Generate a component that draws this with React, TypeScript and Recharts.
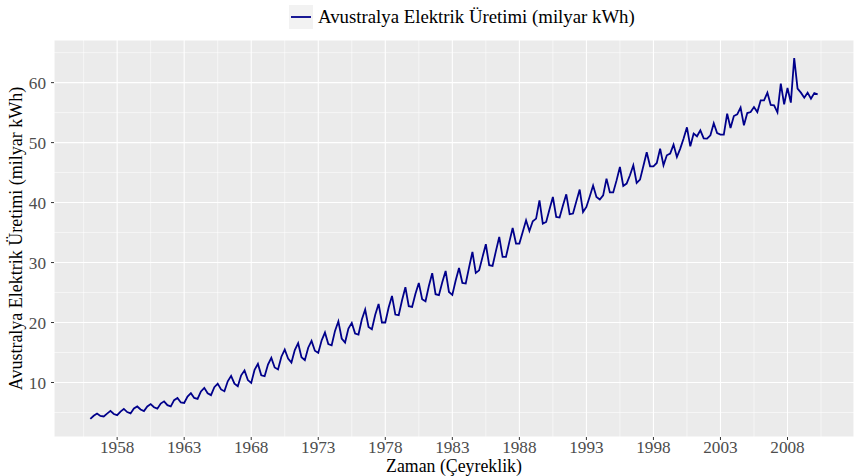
import React from "react";
import {
  LineChart,
  Line,
  XAxis,
  YAxis,
  CartesianGrid,
  ReferenceLine,
  Label,
} from "recharts";

// Quarterly electricity production, 1956 Q1 .. 2010 Q2 (billion kWh)
const startYear = 1956;
const elecProduction: number[] = [
  3.92, 4.44, 4.81, 4.42, 4.34, 4.81, 5.26, 4.74, 4.56, 5.14, 5.6, 5.07,
  4.84, 5.66, 6.0, 5.5, 5.24, 6.0, 6.4, 5.87, 5.64, 6.48, 6.86, 6.22,
  6.02, 7.05, 7.43, 6.67, 6.59, 7.65, 8.22, 7.42, 7.26, 8.51, 9.1, 8.21,
  7.89, 9.22, 9.81, 8.84, 8.55, 10.2, 11.1, 9.8, 9.38, 11.2, 12.0, 10.4,
  9.93, 12.1, 13.1, 11.2, 11.05, 13.0, 14.1, 12.5, 12.17, 14.3, 15.5, 14.0,
  13.33, 15.4, 16.55, 14.2, 13.72, 15.8, 16.93, 15.3, 14.93, 17.0, 18.33, 16.4,
  16.2, 18.6, 20.2, 17.33, 16.67, 19.0, 19.94, 18.17, 18.0, 20.5, 22.17, 19.27,
  18.88, 21.3, 23.1, 20.0, 20.0, 22.5, 24.43, 21.33, 21.22, 23.7, 25.88, 22.72,
  22.6, 24.8, 26.6, 23.88, 23.55, 26.1, 28.22, 24.72, 24.55, 26.7, 28.6, 25.1,
  24.6, 27.0, 29.1, 26.6, 26.5, 29.2, 31.77, 28.27, 28.7, 30.9, 33.05, 29.55,
  29.43, 31.9, 34.27, 30.93, 30.93, 33.4, 35.77, 33.17, 33.17, 35.1, 37.05, 35.27,
  36.88, 37.33, 40.38, 36.5, 36.77, 38.9, 40.93, 37.6, 37.5, 39.5, 41.38, 38.05,
  38.17, 40.2, 42.17, 38.43, 39.27, 41.0, 42.83, 40.93, 40.5, 41.2, 44.0, 41.7,
  41.7, 43.7, 45.93, 42.77, 43.17, 44.55, 46.22, 43.27, 43.83, 46.1, 48.38, 46.05,
  46.05, 46.6, 49.0, 46.22, 47.88, 48.17, 49.67, 47.6, 49.0, 50.67, 52.55, 49.38,
  51.5, 51.05, 52.05, 50.72, 50.67, 51.22, 53.22, 51.6, 51.33, 51.33, 54.83, 52.43,
  54.43, 54.72, 55.83, 52.88, 54.93, 55.1, 55.93, 55.1, 57.05, 57.05, 58.33, 56.27,
  56.22, 55.05, 59.83, 56.38, 59.1, 56.67, 64.1, 59.0, 58.33, 57.5, 58.33, 57.33,
  58.27, 58.05,
];

const xTicks = [1958, 1963, 1968, 1973, 1978, 1983, 1988, 1993, 1998, 2003, 2008];
const xMinor = [1955.5, 1960.5, 1965.5, 1970.5, 1975.5, 1980.5, 1985.5, 1990.5, 1995.5, 2000.5, 2005.5, 2010.5];
const yTicks = [10, 20, 30, 40, 50, 60];
const yMinor = [5, 15, 25, 35, 45, 55, 65];

const seriesName = "Avustralya Elektrik Üretimi (milyar kWh)";
const xTitle = "Zaman (Çeyreklik)";
const yTitle = "Avustralya Elektrik Üretimi (milyar kWh)";

const FONT = '"Liberation Serif", "Times New Roman", serif';
const LINE_COLOR = "#00008B";

const data = elecProduction.map((v, i) => ({ t: startYear + i / 4, v }));

function LegendOverlay() {
  return (
    <div
      style={{
        position: "absolute",
        left: 289,
        top: 5,
        display: "flex",
        alignItems: "center",
        fontFamily: FONT,
        fontSize: 18.8,
        color: "#000",
        whiteSpace: "nowrap",
      }}
    >
      <svg width={24} height={24} style={{ display: "block" }}>
        <rect x={0} y={0} width={24} height={24} fill="#F2F2F2" />
        <line x1={2} y1={12} x2={22} y2={12} stroke={LINE_COLOR} strokeWidth={1.8} />
      </svg>
      <span style={{ marginLeft: 5, lineHeight: "24px" }}>{seriesName}</span>
    </div>
  );
}

export default function App() {
  return (
    <div
      style={{
        position: "absolute",
        left: 0,
        top: 0,
        width: 854,
        height: 476,
        background: "#fff",
      }}
    >
      <LineChart
        width={854}
        height={476}
        data={data}
        margin={{ top: 40, right: 0, bottom: 0, left: 0 }}
      >
        <CartesianGrid fill="#EBEBEB" stroke="#FFFFFF" strokeWidth={1.07} />
        {xMinor.map((x) => (
          <ReferenceLine key={`vx${x}`} x={x} stroke="#FFFFFF" strokeWidth={0.55} />
        ))}
        {yMinor.map((y) => (
          <ReferenceLine key={`hy${y}`} y={y} stroke="#FFFFFF" strokeWidth={0.55} />
        ))}
        <XAxis
          dataKey="t"
          type="number"
          domain={[1953.29, 2012.96]}
          ticks={xTicks}
          allowDataOverflow
          height={39}
          axisLine={false}
          tickSize={3}
          tickMargin={1}
          tickLine={{ stroke: "#333333", strokeWidth: 1 }}
          tick={{ fill: "#4D4D4D", fontSize: 17.2, fontFamily: FONT }}
        >
          <Label
            content={() => (
              <text
                x={454}
                y={472}
                textAnchor="middle"
                fontFamily={FONT}
                fontSize={17.8}
                fill="#000"
              >
                {xTitle}
              </text>
            )}
          />
        </XAxis>
        <YAxis
          type="number"
          domain={[0.91, 67.11]}
          ticks={yTicks}
          allowDataOverflow
          width={54}
          axisLine={false}
          tickSize={3}
          tickMargin={5}
          tickLine={{ stroke: "#333333", strokeWidth: 1 }}
          tick={{ fill: "#4D4D4D", fontSize: 17.2, fontFamily: FONT }}
        >
          <Label
            content={() => (
              <text
                x={22}
                y={238.5}
                transform="rotate(-90, 22, 238.5)"
                textAnchor="middle"
                fontFamily={FONT}
                fontSize={18}
                fill="#000"
              >
                {yTitle}
              </text>
            )}
          />
        </YAxis>
        <Line
          type="linear"
          dataKey="v"
          stroke={LINE_COLOR}
          strokeWidth={1.8}
          dot={false}
          activeDot={false}
          isAnimationActive={false}
        />
      </LineChart>
      <LegendOverlay />
    </div>
  );
}
